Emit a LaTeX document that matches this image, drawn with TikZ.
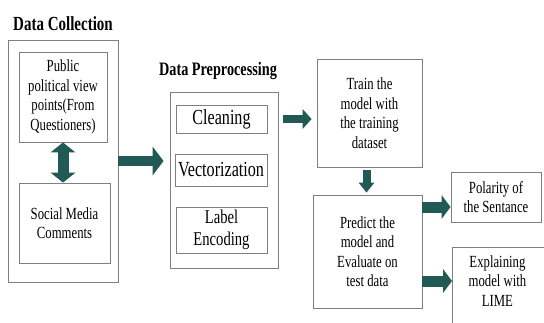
\documentclass[tikz,border=0pt]{standalone}
\usepackage{fontspec}
\setmainfont{Liberation Serif}[FakeStretch=0.75]
\usetikzlibrary{arrows.meta}
\definecolor{arrowc}{HTML}{215A55}
\definecolor{framec}{HTML}{7F7F7F}
\tikzset{
  box/.style={draw=framec, line width=0.9pt, inner sep=0pt, align=center, text=black},
  txt/.style={font=\fontsize{17}{19.5}\selectfont},
  bigtxt/.style={font=\fontsize{21.5}{24}\selectfont},
  midtxt/.style={font=\fontsize{19.5}{22.5}\selectfont},
  title/.style={font=\fontsize{20}{22}\selectfont\bfseries, inner sep=0pt},
  fat/.style n args={3}{line width=#1, draw=arrowc,
    -{Triangle[width=#2, length=#3, line width=0pt]}},
  fatboth/.style n args={3}{line width=#1, draw=arrowc,
    {Triangle[width=#2, length=#3, line width=0pt]}-{Triangle[width=#2, length=#3, line width=0pt]}}
}
\begin{document}
\begin{tikzpicture}[x=1pt, y=-1pt]
\clip (0,0) rectangle (544,322);
\fill[white] (0,0) rectangle (544,322);

% --- Data Collection ---
\node[title] (dctitle) at (63,24) {Data Collection};
\node[box, minimum width=110, minimum height=242] (dcout) at (63,161) {};
\node[box, txt, minimum width=88, minimum height=90] (pub) at (63,97)
  {Public\\political view\\points(From\\Questioners)};
\node[box, txt, minimum width=91, minimum height=80] (soc) at (64.5,223)
  {Social Media\\Comments};

% --- Data Preprocessing ---
\node[title, font=\fontsize{19}{22}\selectfont\bfseries] (dptitle) at (218,71) {Data Preprocessing};
\node[box, minimum width=108, minimum height=176] (dpout) at (224,180) {};
\node[box, bigtxt, minimum width=91, minimum height=28] (clean) at (221.5,119) {Cleaning};
\node[box, bigtxt, minimum width=92, minimum height=32] (vect) at (221,170) {Vectorization};
\node[box, midtxt, minimum width=91, minimum height=46] (label) at (221.5,230) {Label\\Encoding};

% --- Model stages ---
\node[box, txt, minimum width=105, minimum height=108] (train) at (369.5,113)
  {Train the\\model with\\the training\\dataset};
\node[box, txt, minimum width=109, minimum height=113] (predict) at (367.5,251.5)
  {Predict the\\model and\\Evaluate on\\test data};
\node[box, txt, minimum width=90, minimum height=50] (polarity) at (496,197)
  {Polarity of\\the Sentance};
\node[box, minimum width=96, minimum height=83, anchor=north west] (explain) at (452,247) {};
\node[txt, align=center, inner sep=0pt] (explaintxt) at ([xshift=-3pt, yshift=-34pt]explain.north)
  {Explaining\\model with\\LIME};

% --- Connectors ---
\draw[fatboth={11pt}{25pt}{10pt}] (pub.south) -- (pub.south |- soc.north);
\draw[fat={10pt}{29pt}{11pt}, shorten >=6pt] (dcout.east) -- (dcout.east -| dpout.west);
\draw[fat={8pt}{20pt}{9pt}, shorten <=5pt, shorten >=5pt]
  (clean.east -| dpout.east) -- (clean.east -| train.west);
\draw[fat={8pt}{16pt}{10pt}, shorten <=3pt, shorten >=2pt]
  ([xshift=-3pt]train.south) -- ([xshift=-3pt]train.south |- predict.north);
\draw[fat={11pt}{24pt}{9pt}]
  ([yshift=-10pt]polarity.west -| predict.east) -- ([yshift=-10pt]polarity.west);
\draw[fat={11pt}{24pt}{9pt}]
  (explaintxt.west -| predict.east) -- (explaintxt.west -| explain.west);
\end{tikzpicture}
\end{document}
